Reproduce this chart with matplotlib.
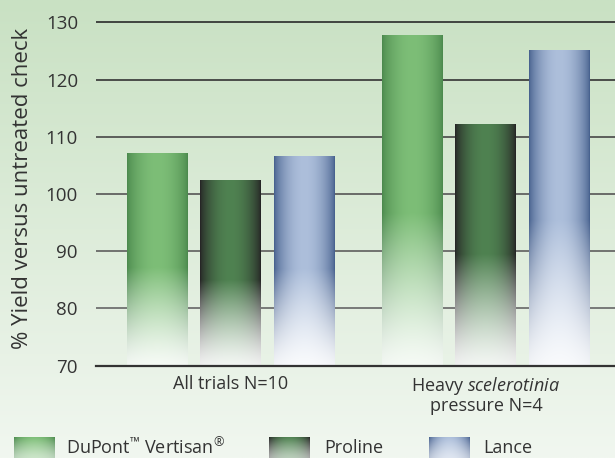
import matplotlib
matplotlib.use("Agg")
import matplotlib.pyplot as plt
import numpy as np
from matplotlib.colors import to_rgb

# chart data
groups = ["All trials N=10", "Heavy $\\mathit{scelerotinia}$\npressure N=4"]
products = ["DuPont$^{\u2122}$ Vertisan$^{\u00ae}$", "Proline", "Lance"]
vertisan = [107.0, 127.6]
proline = [102.3, 112.0]
lance = [106.5, 125.0]
yticks = [70, 80, 90, 100, 110, 120, 130]

edge_colors = ["#4c8a4e", "#262626", "#48628f"]
mid_colors = ["#7dbe77", "#4f8251", "#adbfdb"]
grid_colors = ["#666666", "#5e5e5e", "#555555", "#474747", "#333333", "#2a2a2a"]

plt.rcParams["font.family"] = ["Open Sans", "DejaVu Sans"]
plt.rcParams["mathtext.fontset"] = "custom"
plt.rcParams["mathtext.it"] = "Open Sans:italic"
plt.rcParams["mathtext.rm"] = "Open Sans"
plt.rcParams["mathtext.default"] = "regular"
TEXT = "#333333"


def bar_image(edge, mid, fade=0.46, floor=0.08, n=64, m=240):
    u = np.linspace(0, 1, n)
    prof = np.sin(np.pi * u) ** 0.7
    edge = np.array(to_rgb(edge))
    mid = np.array(to_rgb(mid))
    row = edge[None, :] * (1 - prof[:, None]) + mid[None, :] * prof[:, None]
    t = np.linspace(1, 0, m)
    a = np.clip(t / fade, 0, 1) ** 1.3
    a = floor + (1 - floor) * a
    return row[None, :, :] * a[:, None, None] + (1 - a[:, None, None])


fig = plt.figure(figsize=(6.15, 4.58), dpi=100)

# background gradient
bg = fig.add_axes([0, 0, 1, 1])
top = np.array(to_rgb("#c9e1c3"))
bot = np.array(to_rgb("#f1f7f0"))
s = np.linspace(0, 1, 256)[:, None]
grad = top[None, :] * (1 - s) + bot[None, :] * s
bg.imshow(np.repeat(grad[:, None, :], 4, axis=1), aspect="auto", extent=[0, 1, 0, 1])
bg.axis("off")

ax = fig.add_axes([96 / 615, 1 - 365.5 / 458, 1 - 96 / 615, (365.5 - 16.6) / 458])
ax.set_facecolor("none")

x = np.arange(len(groups))
width = 0.239
offset = 0.288
for idx, (values, ec, mc) in enumerate(zip([vertisan, proline, lance], edge_colors, mid_colors)):
    bars = ax.bar(x + (idx - 1) * offset, np.array(values) - 70, width, bottom=70,
                  color="none", linewidth=0)
    img = bar_image(ec, mc)
    for b in bars:
        ax.imshow(img, extent=[b.get_x(), b.get_x() + b.get_width(), 70, b.get_y() + b.get_height()],
                  aspect="auto", zorder=2, interpolation="bilinear")

for v, gc in zip(yticks[1:], grid_colors):
    ax.axhline(v, color=gc, lw=1.2, zorder=1)

ax.set_xlim(-0.529, 1.506)
ax.set_ylim(70, 131)
ax.set_yticks(yticks)
ax.set_yticklabels([str(v) for v in yticks], fontsize=13.5, color=TEXT)
ax.set_xticks(x)
ax.set_xticklabels(groups, fontsize=13, color=TEXT, linespacing=1.0)
ax.tick_params(axis="y", length=0, pad=13)
ax.tick_params(axis="x", length=0, pad=7)
for side in ["left", "right", "top"]:
    ax.spines[side].set_visible(False)
ax.spines["bottom"].set_color("#333333")
ax.spines["bottom"].set_linewidth(1.6)

fig.text(23 / 615, 1 - 188 / 458, "% Yield versus untreated check", rotation=90,
         ha="center", va="center", fontsize=16, color=TEXT)

# legend with gradient swatches
leg = fig.add_axes([0, 0, 1, 1])
leg.set_facecolor("none")
swatch_x = [14, 269, 429]
label_x = [66, 324, 483]
for sx, lx, name, ec, mc in zip(swatch_x, label_x, products, edge_colors, mid_colors):
    leg.imshow(bar_image(ec, mc, fade=1.0, floor=0.4), extent=[sx, sx + 41, 458, 437],
               aspect="auto", interpolation="bilinear")
    leg.text(lx, 448, name, ha="left", va="center", fontsize=13, color=TEXT)
leg.set_xlim(0, 615)
leg.set_ylim(458, 0)
leg.axis("off")

fig.savefig("out.png", dpi=100)
